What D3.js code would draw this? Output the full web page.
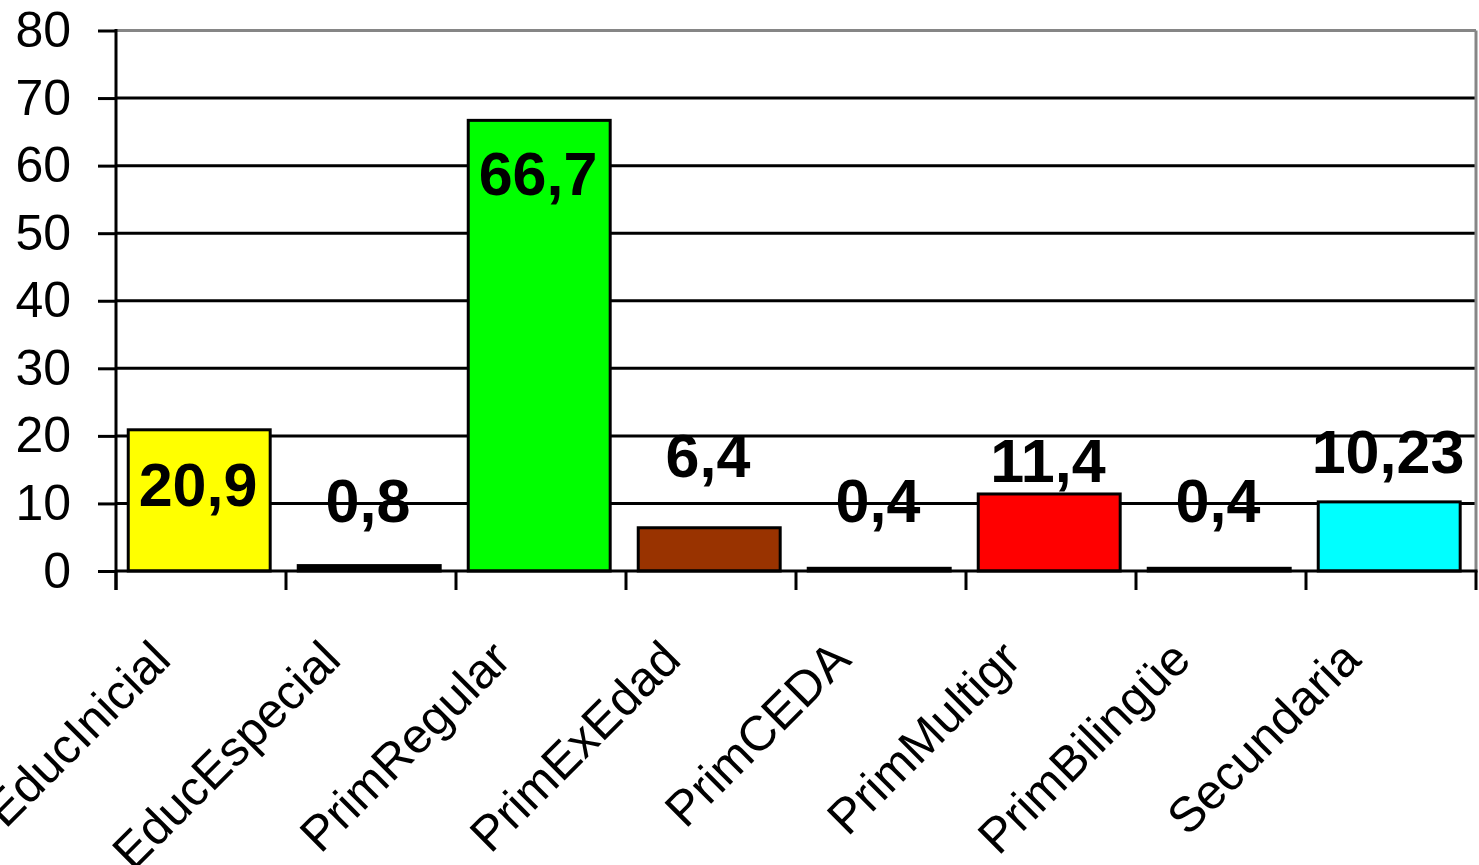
<!DOCTYPE html>
<html>
<head>
<meta charset="utf-8">
<script src="https://cdn.jsdelivr.net/npm/d3@7"></script>
<style>
  html, body { margin: 0; padding: 0; background: #fff; }
  svg { display: block; }
  text { font-family: "Liberation Sans", Arial, sans-serif; }
</style>
</head>
<body>
<svg id="chart" width="1479" height="865"></svg>
<script>
// ---- data ----
const categories = ["EducInicial", "EducEspecial", "PrimRegular", "PrimExEdad", "PrimCEDA", "PrimMultigr", "PrimBilingüe", "Secundaria"];
const values = [20.9, 0.8, 66.7, 6.4, 0.4, 11.4, 0.4, 10.23];
const valueLabels = ["20,9", "0,8", "66,7", "6,4", "0,4", "11,4", "0,4", "10,23"];
const barColors = ["#FFFF00", "#000000", "#00FF00", "#993300", "#000000", "#FF0000", "#000000", "#00FFFF"];
const yTicks = [0, 10, 20, 30, 40, 50, 60, 70, 80];
// where each data label's baseline sits, in axis units (as placed in the original)
const labelAnchor = [9.6, 7.3, 55.7, 13.9, 7.3, 13.2, 7.3, 14.5];

// ---- layout ----
const svg = d3.select("#chart");
const plotLeft = 116, plotRight = 1476, plotTop = 30.5, plotBottom = 571;

const x = d3.scaleBand().domain(categories).range([plotLeft, plotRight]).padding(0);
const y = d3.scaleLinear().domain([0, 80]).range([plotBottom, plotTop]);
const step = x.step();

// gridlines (10..70 black), top border gray
svg.append("g").selectAll("line")
  .data(yTicks.filter(t => t > 0 && t < 80))
  .join("line")
  .attr("x1", plotLeft).attr("x2", plotRight)
  .attr("y1", d => y(d)).attr("y2", d => y(d))
  .attr("stroke", "#000").attr("stroke-width", 3);

svg.append("line")
  .attr("x1", plotLeft).attr("x2", plotRight)
  .attr("y1", y(80)).attr("y2", y(80))
  .attr("stroke", "#868686").attr("stroke-width", 3);
svg.append("line")
  .attr("x1", plotRight).attr("x2", plotRight)
  .attr("y1", y(80)).attr("y2", plotBottom)
  .attr("stroke", "#868686").attr("stroke-width", 3);

// bars
svg.append("g").selectAll("rect")
  .data(values)
  .join("rect")
  .attr("x", (d, i) => x(categories[i]) + step * 0.072)
  .attr("width", step * 0.835)
  .attr("y", d => y(d))
  .attr("height", d => plotBottom - y(d))
  .attr("fill", (d, i) => barColors[i])
  .attr("stroke", "#000").attr("stroke-width", 3);

// y axis
const yAxis = d3.axisLeft(y).tickValues(yTicks).tickSize(18).tickPadding(27).tickFormat(d3.format("d"));
const gy = svg.append("g").attr("transform", `translate(${plotLeft},0)`).call(yAxis);
gy.select(".domain").remove();
gy.selectAll(".tick line").attr("stroke", "#000").attr("stroke-width", 3);
gy.selectAll(".tick text").attr("font-size", 50).attr("fill", "#000")
  .attr("font-family", "'Liberation Sans', Arial, sans-serif");
svg.append("line")
  .attr("x1", plotLeft).attr("x2", plotLeft)
  .attr("y1", plotTop - 1.5).attr("y2", plotBottom + 19)
  .attr("stroke", "#000").attr("stroke-width", 3);

// x axis
const xTickPos = categories.map(c => x(c)).concat([plotRight]);
svg.append("line")
  .attr("x1", plotLeft).attr("x2", plotRight + 1.5)
  .attr("y1", plotBottom).attr("y2", plotBottom)
  .attr("stroke", "#000").attr("stroke-width", 3);
svg.append("g").selectAll("line")
  .data(xTickPos)
  .join("line")
  .attr("x1", d => d).attr("x2", d => d)
  .attr("y1", plotBottom).attr("y2", plotBottom + 19)
  .attr("stroke", "#000").attr("stroke-width", 3);

svg.append("g").selectAll("text")
  .data(categories)
  .join("text")
  .attr("transform", d => `translate(${x(d) + 57},${662}) rotate(-45)`)
  .attr("text-anchor", "end")
  .attr("font-size", 49)
  .attr("fill", "#000")
  .text(d => d);

// value labels
svg.append("g").selectAll("text")
  .data(values)
  .join("text")
  .attr("x", (d, i) => x(categories[i]) + step / 2 - 3)
  .attr("y", (d, i) => y(labelAnchor[i]))
  .attr("text-anchor", "middle")
  .attr("font-size", 61)
  .attr("font-weight", "bold")
  .attr("fill", "#000")
  .text((d, i) => valueLabels[i]);
</script>
</body>
</html>
